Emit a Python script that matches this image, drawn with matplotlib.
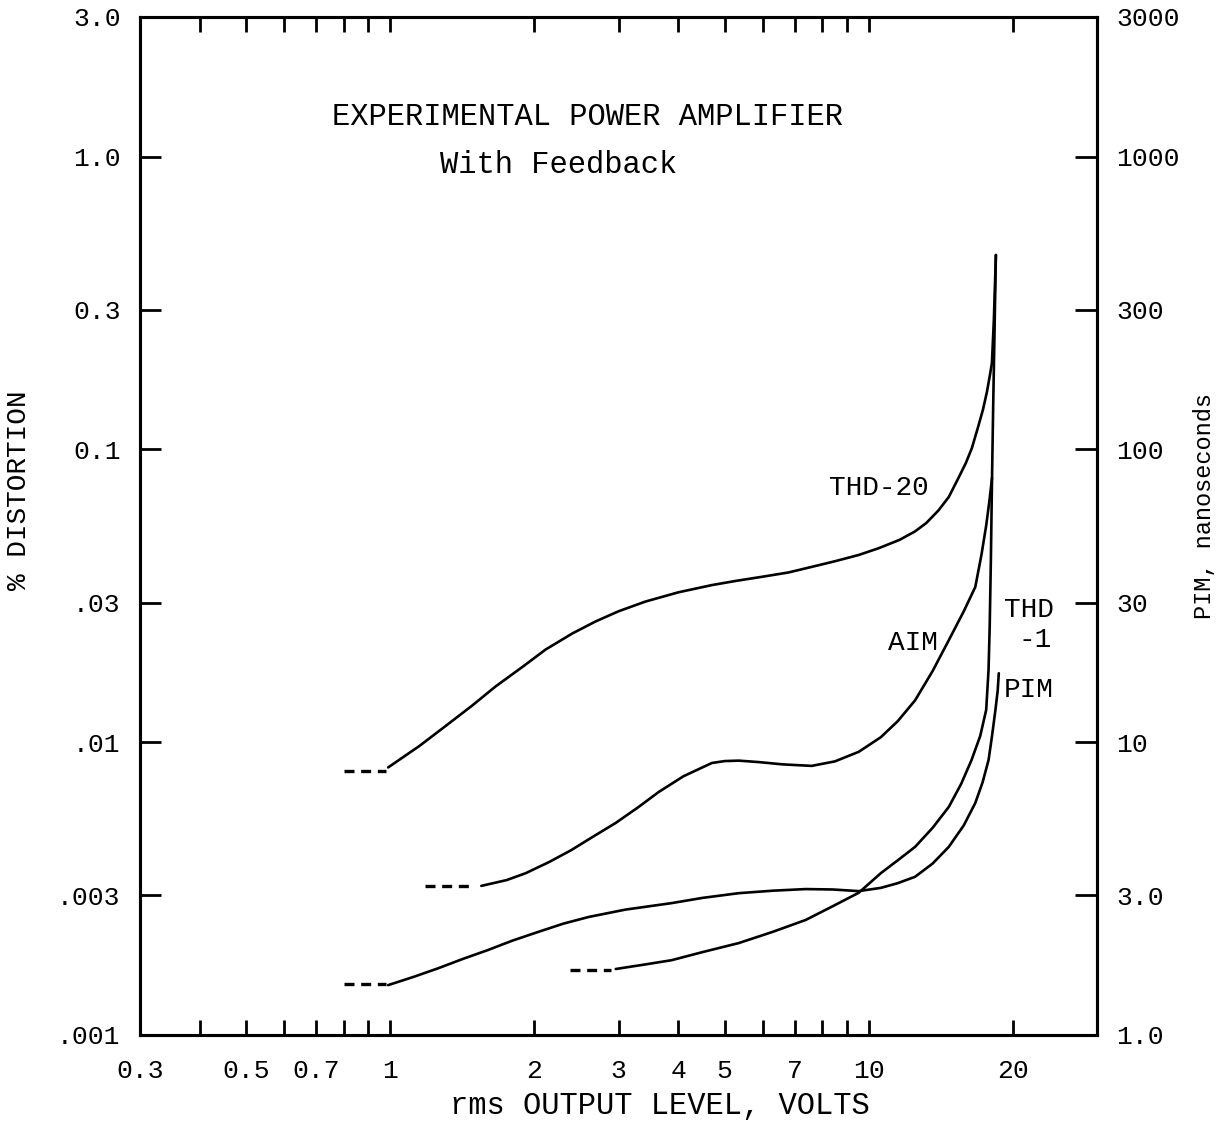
import matplotlib
matplotlib.use("Agg")
import matplotlib.pyplot as plt
from matplotlib.ticker import FixedLocator, FixedFormatter, NullLocator

plt.rcParams['font.family'] = ['Liberation Mono', 'DejaVu Sans Mono']

# THD-20 (% distortion vs rms output volts)
thd20_dash_v = [0.80, 0.98]
thd20_dash_pct = [0.0080, 0.0080]
thd20_v = [0.99, 1.15, 1.30, 1.48, 1.66, 1.90, 2.11, 2.40, 2.68, 3.00, 3.41,
           4.00, 4.70, 5.30, 5.97, 6.80, 7.60, 8.50, 9.53, 10.5, 11.6, 12.5,
           13.2, 14.0, 14.7, 15.4, 15.96, 16.43, 16.9, 17.32, 17.66, 17.92,
           18.09, 18.26, 18.44]
thd20_pct = [0.0082, 0.0097, 0.0113, 0.0133, 0.0155, 0.0182, 0.0207, 0.0235,
             0.0258, 0.0280, 0.0302, 0.0325, 0.0344, 0.0356, 0.0367, 0.0380,
             0.0397, 0.0415, 0.0436, 0.0460, 0.0491, 0.0525, 0.0561, 0.0620,
             0.0688, 0.0799, 0.0899, 0.1011, 0.1183, 0.1363, 0.1571, 0.1796,
             0.1973, 0.2767, 0.4613]

# AIM
aim_dash_v = [1.18, 1.48]
aim_dash_pct = [0.00323, 0.00323]
aim_v = [1.55, 1.75, 1.92, 2.15, 2.39, 2.65, 2.96, 3.30, 3.64, 4.10, 4.70,
         5.00, 5.35, 5.90, 6.60, 7.60, 8.50, 9.53, 10.6, 11.5, 12.5, 13.6,
         14.7, 15.8, 16.7, 17.2, 17.6, 17.9, 18.1]
aim_pct = [0.00323, 0.00338, 0.00357, 0.00390, 0.00428, 0.00475, 0.00530,
           0.00600, 0.00676, 0.00765, 0.00849, 0.00862, 0.00865, 0.00855,
           0.00840, 0.00830, 0.00860, 0.00927, 0.0104, 0.0118, 0.0139, 0.0175,
           0.0223, 0.0280, 0.0339, 0.0436, 0.055, 0.068, 0.080]

# THD-1
thd1_dash_v = [2.38, 2.90]
thd1_dash_pct = [0.00167, 0.00167]
thd1_v = [2.96, 3.40, 3.87, 4.50, 5.35, 6.30, 7.38, 8.40, 9.53, 10.6, 11.5,
          12.5, 13.6, 14.7, 15.6, 16.4, 17.1, 17.6, 17.8, 17.9, 18.0, 18.1,
          18.2, 18.3, 18.44]
thd1_pct = [0.00168, 0.00174, 0.00180, 0.00192, 0.00206, 0.00225, 0.00247,
            0.00275, 0.00306, 0.00357, 0.00395, 0.00439, 0.00510, 0.00601,
            0.0072, 0.00869, 0.0105, 0.0129, 0.0177, 0.025, 0.0419, 0.080,
            0.140, 0.230, 0.4613]

# PIM
pim_dash_v = [0.80, 0.98]
pim_dash_pct = [0.00149, 0.00149]
pim_v = [0.99, 1.12, 1.26, 1.42, 1.60, 1.80, 2.04, 2.30, 2.60, 3.10, 3.87,
         4.50, 5.35, 6.30, 7.38, 8.40, 9.53, 10.6, 11.5, 12.5, 13.6, 14.7,
         15.8, 16.7, 17.3, 17.8, 18.1, 18.4, 18.6, 18.7]
pim_pct = [0.00148, 0.00158, 0.00169, 0.00182, 0.00195, 0.00210, 0.00225,
           0.00240, 0.00253, 0.00268, 0.00282, 0.00294, 0.00305, 0.00311,
           0.00315, 0.00314, 0.00310, 0.00318, 0.00330, 0.00347, 0.00385,
           0.00439, 0.0052, 0.0062, 0.0073, 0.00869, 0.0105, 0.0129, 0.0150,
           0.0172]

x_ticks = [0.4, 0.5, 0.6, 0.7, 0.8, 0.9, 1, 2, 3, 4, 5, 6, 7, 8, 9, 10, 20]
x_label_vals = [0.3, 0.5, 0.7, 1, 2, 3, 4, 5, 7, 10, 20]
x_label_txt = ['0.3', '0.5', '0.7', '1', '2', '3', '4', '5', '7', '10', '20']
y_vals = [0.001, 0.003, 0.01, 0.03, 0.1, 0.3, 1.0, 3.0]
y_txt = ['.001', '.003', '.01', '.03', '0.1', '0.3', '1.0', '3.0']
r_vals = [1, 3, 10, 30, 100, 300, 1000, 3000]
r_txt = ['1.0', '3.0', '10', '30', '100', '300', '1000', '3000']

fig = plt.figure(figsize=(12.2, 11.3), dpi=100)
ax = fig.add_axes([0.1148, 0.0841, 0.7844, 0.9009])
ax.set_xscale('log')
ax.set_yscale('log')
ax.set_xlim(0.3, 30)
ax.set_ylim(0.001, 3.0)

lw = 1.9
for xs, ys in [(thd20_v, thd20_pct), (aim_v, aim_pct), (thd1_v, thd1_pct), (pim_v, pim_pct)]:
    ax.plot(xs, ys, color='black', lw=lw, solid_capstyle='round',
            solid_joinstyle='round')
for xs, ys in [(thd20_dash_v, thd20_dash_pct), (aim_dash_v, aim_dash_pct),
               (thd1_dash_v, thd1_dash_pct), (pim_dash_v, pim_dash_pct)]:
    ax.plot(xs, ys, color='black', lw=2.4, dashes=(3, 2))

for s in ax.spines.values():
    s.set_linewidth(2.2)

ax.xaxis.set_major_locator(FixedLocator(x_ticks))
ax.xaxis.set_minor_locator(NullLocator())
ax.set_xticklabels([])
ax.tick_params(axis='x', which='major', direction='in', length=11, width=2,
               top=True, bottom=True)
for v, t in zip(x_label_vals, x_label_txt):
    ax.text(v, -0.024, t, transform=ax.get_xaxis_transform(), ha='center',
            va='top', fontsize=19)

ax.yaxis.set_major_locator(FixedLocator(y_vals))
ax.yaxis.set_major_formatter(FixedFormatter(y_txt))
ax.yaxis.set_minor_locator(NullLocator())
ax.tick_params(axis='y', which='major', direction='in', length=15, width=2,
               labelsize=19, pad=14)

ax2 = ax.twinx()
ax2.set_yscale('log')
ax2.set_ylim(1, 3000)
ax2.yaxis.set_major_locator(FixedLocator(r_vals))
ax2.yaxis.set_major_formatter(FixedFormatter(r_txt))
ax2.yaxis.set_minor_locator(NullLocator())
ax2.tick_params(axis='y', which='major', direction='in', length=16, width=2,
                labelsize=19, pad=14)
for s in ax2.spines.values():
    s.set_linewidth(2.2)

ax.set_xlabel('rms OUTPUT LEVEL, VOLTS', fontsize=22)
ax.xaxis.set_label_coords(0.543, -0.055)
ax.set_ylabel('% DISTORTION', fontsize=20)
ax.yaxis.set_label_coords(-0.113, 0.535)
ax2.set_ylabel('PIM, nanoseconds', fontsize=17)
ax2.yaxis.set_label_coords(1.100, 0.52)

ax.text(0.468, 0.902, 'EXPERIMENTAL POWER AMPLIFIER', transform=ax.transAxes,
        ha='center', va='center', fontsize=22)
ax.text(0.437, 0.855, 'With Feedback', transform=ax.transAxes,
        ha='center', va='center', fontsize=22)

ax.text(10.5, 0.074, 'THD-20', ha='center', va='center', fontsize=20)
ax.text(12.4, 0.0218, 'AIM', ha='center', va='center', fontsize=20)
ax.text(21.6, 0.0283, 'THD', ha='center', va='center', fontsize=20)
ax.text(22.3, 0.0223, '-1', ha='center', va='center', fontsize=20)
ax.text(21.6, 0.0151, 'PIM', ha='center', va='center', fontsize=20)

fig.savefig('out.png', dpi=100)
